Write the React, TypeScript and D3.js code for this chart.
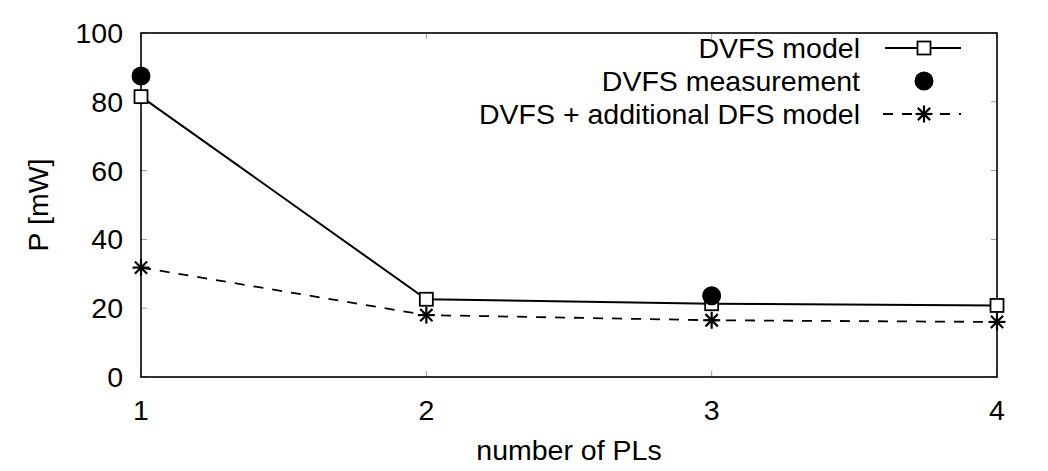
import React from "react";
import * as d3 from "d3";

const xCats = [1, 2, 3, 4];
const dvfsModel = [81.5, 22.6, 21.3, 20.8];
const measX = [1, 3];
const dvfsMeas = [87.5, 23.6];
const dfsModel = [31.8, 18.0, 16.5, 16.0];
const yTicks = [0, 20, 40, 60, 80, 100];
const legendLabels = ["DVFS model", "DVFS measurement", "DVFS + additional DFS model"];

const W = 1048, H = 471;
const L = 141, R = 997, T = 33, B = 377;
const FONT = "'Liberation Sans', Arial, Helvetica, sans-serif";
const FS = 28.5;

function Square({ x, y }: { x: number; y: number }) {
  return <rect x={x - 6.5} y={y - 6.5} width={13} height={13} fill="white" stroke="black" strokeWidth={1.8} />;
}
function Star({ x, y }: { x: number; y: number }) {
  const s = 8.5;
  const d = s * 0.72;
  return (
    <g stroke="black" strokeWidth={2.2}>
      <line x1={x - s} y1={y} x2={x + s} y2={y} />
      <line x1={x} y1={y - s} x2={x} y2={y + s} />
      <line x1={x - d} y1={y - d} x2={x + d} y2={y + d} />
      <line x1={x - d} y1={y + d} x2={x + d} y2={y - d} />
    </g>
  );
}

export default function App() {
  const x = d3.scaleLinear().domain([1, 4]).range([L, R]);
  const y = d3.scaleLinear().domain([0, 100]).range([B, T]);
  const line = d3.line<number>().x((_, i) => x(xCats[i])).y((d) => y(d));
  const tickLen = 6;
  return (
    <svg width={W} height={H} style={{ position: "absolute", left: 0, top: 0, background: "white" }}>
      <rect x={0} y={0} width={W} height={H} fill="white" />
      {yTicks.map((t) => (
        <g key={"y" + t} stroke="#999" strokeWidth={1}>
          <line x1={L} x2={L + tickLen} y1={y(t)} y2={y(t)} />
          <line x1={R} x2={R - tickLen} y1={y(t)} y2={y(t)} />
        </g>
      ))}
      {xCats.map((t) => (
        <g key={"x" + t} stroke="#999" strokeWidth={1}>
          <line x1={x(t)} x2={x(t)} y1={B} y2={B - tickLen} />
          <line x1={x(t)} x2={x(t)} y1={T} y2={T + tickLen} />
        </g>
      ))}
      <rect x={L} y={T} width={R - L} height={B - T} fill="none" stroke="black" strokeWidth={1.6} />
      {yTicks.map((t) => (
        <text key={"yl" + t} x={L - 18} y={y(t) + 10} textAnchor="end" fontFamily={FONT} fontSize={FS} fill="black">
          {t}
        </text>
      ))}
      {xCats.map((t) => (
        <text key={"xl" + t} x={x(t)} y={B + 43} textAnchor="middle" fontFamily={FONT} fontSize={FS} fill="black">
          {t}
        </text>
      ))}
      <text x={569} y={460} textAnchor="middle" fontFamily={FONT} fontSize={FS} fill="black">number of PLs</text>
      <text transform={`translate(48,${(T + B) / 2}) rotate(-90)`} textAnchor="middle" fontFamily={FONT} fontSize={FS} fill="black">
        P [mW]
      </text>

      <path d={line(dfsModel) || ""} fill="none" stroke="black" strokeWidth={1.8} strokeDasharray="10,9" />
      {dfsModel.map((v, i) => <Star key={"s" + i} x={x(xCats[i])} y={y(v)} />)}
      <path d={line(dvfsModel) || ""} fill="none" stroke="black" strokeWidth={2} />
      {dvfsModel.map((v, i) => <Square key={"q" + i} x={x(xCats[i])} y={y(v)} />)}
      {dvfsMeas.map((v, i) => <circle key={"c" + i} cx={x(measX[i])} cy={y(v)} r={9.5} fill="black" />)}

      {legendLabels.map((lab, i) => (
        <text key={"lg" + i} x={860} y={58 + i * 33} textAnchor="end" fontFamily={FONT} fontSize={FS} fill="black">
          {lab}
        </text>
      ))}
      <line x1={885} x2={961} y1={48} y2={48} stroke="black" strokeWidth={2} />
      <Square x={924} y={48} />
      <circle cx={924} cy={81} r={9.5} fill="black" />
      <line x1={883} x2={961} y1={114} y2={114} stroke="black" strokeWidth={1.8} strokeDasharray="10,9" />
      <Star x={924} y={114} />
    </svg>
  );
}
